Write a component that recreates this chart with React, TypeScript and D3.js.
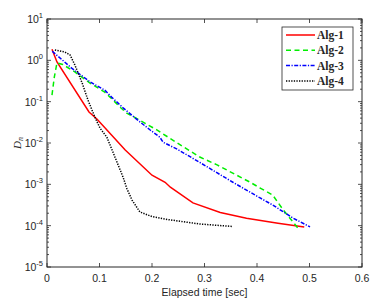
import { useEffect, useRef } from 'react';
import * as d3 from 'd3';

// series values as [time, log10(D_n)]
const alg1 = [
  [0.0095, 0.27], [0.019, -0.04], [0.08, -1.25], [0.095, -1.42], [0.149, -2.17],
  [0.2, -2.78], [0.225, -2.95], [0.235, -3.07], [0.278, -3.45], [0.33, -3.68],
  [0.38, -3.82], [0.44, -3.94], [0.49, -4.03],
];
const alg2 = [
  [0.0095, -0.84], [0.014, -0.4], [0.019, -0.06], [0.03, -0.1], [0.053, -0.28],
  [0.082, -0.55], [0.11, -0.77], [0.125, -0.95], [0.139, -1.13], [0.152, -1.28],
  [0.177, -1.45], [0.21, -1.69], [0.248, -2.0], [0.291, -2.34], [0.324, -2.53],
  [0.387, -2.95], [0.406, -3.09], [0.43, -3.26], [0.45, -3.62], [0.478, -4.06],
];
const alg3 = [
  [0.01, 0.22], [0.047, -0.19], [0.082, -0.52], [0.11, -0.72], [0.123, -0.89],
  [0.145, -1.15], [0.177, -1.49], [0.196, -1.68], [0.215, -1.86], [0.221, -1.98],
  [0.248, -2.15], [0.291, -2.47], [0.354, -2.95], [0.406, -3.33], [0.43, -3.5],
  [0.469, -3.82], [0.501, -4.03],
];
const alg4 = [
  [0.015, 0.25], [0.034, 0.2], [0.044, 0.13], [0.053, -0.11], [0.067, -0.55],
  [0.078, -0.96], [0.091, -1.37], [0.101, -1.64], [0.114, -1.86], [0.124, -2.17],
  [0.145, -2.83], [0.152, -3.1], [0.162, -3.38], [0.177, -3.67], [0.2, -3.78],
  [0.229, -3.85], [0.291, -3.96], [0.354, -4.02],
];
const seriesNames = ['Alg-1', 'Alg-2', 'Alg-3', 'Alg-4'];
const xTicks = [0, 0.1, 0.2, 0.3, 0.4, 0.5, 0.6];
const yExps = [1, 0, -1, -2, -3, -4, -5];

const styles = [
  { color: '#ff0000', dash: null, width: 1.5 },
  { color: '#00ee00', dash: '5,3.5', width: 1.5 },
  { color: '#0000ff', dash: '4,1.5,1.2,1.5', width: 1.5 },
  { color: '#000000', dash: '1.3,1.3', width: 1.5 },
];

const W = 377;
const H = 301;
const m = { left: 47, right: 15, top: 19, bottom: 34 };
const axisColor = '#262626';
const sans = '"Liberation Sans", Arial, sans-serif';
const serif = '"Liberation Serif", serif';

const render = (svgEl: SVGSVGElement) => {
  const svg = d3.select(svgEl);
  svg.selectAll('*').remove();

  const x = d3.scaleLinear().domain([0, 0.6]).range([m.left, W - m.right]);
  const y = d3.scaleLog().domain([1e-5, 10]).range([H - m.bottom, m.top]);

  svg.append('rect').attr('width', W).attr('height', H).attr('fill', '#fff');

  // Lines
  const line = d3
    .line<number[]>()
    .x((d) => x(d[0]))
    .y((d) => y(Math.pow(10, d[1])));
  [alg1, alg2, alg3, alg4].forEach((data, i) => {
    const s = styles[i];
    svg
      .append('path')
      .datum(data)
      .attr('d', line)
      .attr('fill', 'none')
      .attr('stroke', s.color)
      .attr('stroke-width', s.width)
      .attr('stroke-dasharray', s.dash);
  });

  // Box
  const x0 = x(0), x1 = x(0.6), y0 = y(1e-5), y1 = y(10);
  svg
    .append('rect')
    .attr('x', x0).attr('y', y1)
    .attr('width', x1 - x0).attr('height', y0 - y1)
    .attr('fill', 'none').attr('stroke', axisColor).attr('stroke-width', 1);

  // Ticks (inward, on all four sides)
  const tl = 4;
  const tickG = svg.append('g').attr('stroke', axisColor).attr('stroke-width', 0.8);
  xTicks.forEach((t) => {
    tickG.append('line').attr('x1', x(t)).attr('x2', x(t)).attr('y1', y0).attr('y2', y0 - tl);
    tickG.append('line').attr('x1', x(t)).attr('x2', x(t)).attr('y1', y1).attr('y2', y1 + tl);
  });
  yExps.forEach((e) => {
    const v = Math.pow(10, e);
    tickG.append('line').attr('x1', x0).attr('x2', x0 + tl).attr('y1', y(v)).attr('y2', y(v));
    tickG.append('line').attr('x1', x1).attr('x2', x1 - tl).attr('y1', y(v)).attr('y2', y(v));
    if (e > -5) {
      for (let k = 2; k <= 9; k++) {
        const ym = y(Math.pow(10, e - 1) * k);
        tickG.append('line').attr('x1', x0).attr('x2', x0 + 2).attr('y1', ym).attr('y2', ym);
        tickG.append('line').attr('x1', x1).attr('x2', x1 - 2).attr('y1', ym).attr('y2', ym);
      }
    }
  });

  // Tick labels
  xTicks.forEach((t) => {
    svg
      .append('text')
      .attr('x', x(t)).attr('y', y0 + 15)
      .attr('text-anchor', 'middle')
      .attr('font-family', sans).attr('font-size', 10.5)
      .attr('fill', axisColor)
      .text(String(t));
  });
  yExps.forEach((e) => {
    const tx = svg
      .append('text')
      .attr('x', x0 - 4).attr('y', y(Math.pow(10, e)) + 4)
      .attr('text-anchor', 'end')
      .attr('font-family', sans).attr('font-size', 10.5)
      .attr('fill', axisColor);
    tx.append('tspan').text('10');
    tx.append('tspan').attr('dy', -5).attr('font-size', 7.5).text(String(e));
  });

  // Axis labels
  svg
    .append('text')
    .attr('x', (x0 + x1) / 2).attr('y', y0 + 29)
    .attr('text-anchor', 'middle')
    .attr('font-family', sans).attr('font-size', 10.5)
    .attr('fill', axisColor)
    .text('Elapsed time [sec]');
  const yl = svg
    .append('text')
    .attr('transform', `translate(21,${(y0 + y1) / 2}) rotate(-90)`)
    .attr('text-anchor', 'middle')
    .attr('font-family', serif).attr('font-size', 11)
    .attr('font-style', 'italic')
    .attr('fill', axisColor);
  yl.append('tspan').text('D');
  yl.append('tspan').attr('dy', 2).attr('font-size', 8).text('n');

  // Legend
  const lg = svg.append('g');
  lg.append('rect')
    .attr('x', 282).attr('y', 27).attr('width', 71).attr('height', 63)
    .attr('fill', '#fff').attr('stroke', axisColor).attr('stroke-width', 0.8);
  seriesNames.forEach((name, i) => {
    const s = styles[i];
    const ly = 35 + i * 15.3;
    lg.append('line')
      .attr('x1', 286).attr('x2', 315).attr('y1', ly).attr('y2', ly)
      .attr('stroke', s.color).attr('stroke-width', s.width)
      .attr('stroke-dasharray', s.dash);
    lg.append('text')
      .attr('x', 317).attr('y', ly + 4)
      .attr('font-family', serif).attr('font-weight', 'bold')
      .attr('font-size', 11.5).attr('fill', axisColor)
      .text(name);
  });
};

const Chart = () => {
  const ref = useRef<SVGSVGElement>(null);
  useEffect(() => {
    if (ref.current) render(ref.current);
  }, []);
  return (
    <svg
      ref={ref}
      width={W}
      height={H}
      style={{ position: 'absolute', left: 0, top: 0 }}
    ></svg>
  );
};

export default function App() {
  return <Chart />;
}
